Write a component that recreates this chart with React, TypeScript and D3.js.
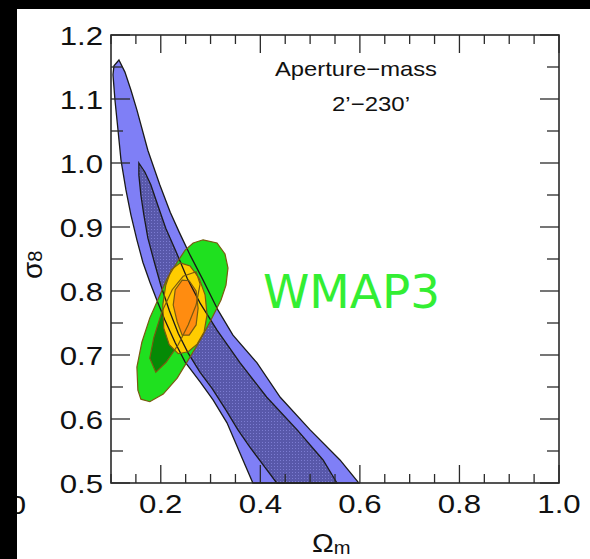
import React from 'react';
import * as d3 from 'd3';

type Pt = [number, number];

// tick labels
const xTickLabels = [0.2, 0.4, 0.6, 0.8, 1.0];
const yTickLabels = [0.5, 0.6, 0.7, 0.8, 0.9, 1.0, 1.1, 1.2];

// aperture-mass lensing band, [Omega_m, sigma_8]
const lensingOuter: Pt[] = [
  [0.116, 1.161], [0.128, 1.142], [0.140, 1.114], [0.152, 1.083], [0.174, 1.020],
  [0.198, 0.966], [0.219, 0.923], [0.237, 0.892], [0.259, 0.856], [0.285, 0.817],
  [0.315, 0.770], [0.345, 0.731], [0.393, 0.688], [0.440, 0.634], [0.500, 0.583],
  [0.560, 0.536], [0.598, 0.500], [0.385, 0.500], [0.359, 0.547], [0.333, 0.594],
  [0.305, 0.630], [0.279, 0.658], [0.249, 0.689], [0.229, 0.719], [0.208, 0.755],
  [0.192, 0.786], [0.178, 0.814], [0.164, 0.845], [0.152, 0.880], [0.140, 0.919],
  [0.130, 0.958], [0.120, 1.005], [0.114, 1.052], [0.108, 1.098], [0.104, 1.138],
  [0.106, 1.152],
];

const lensingInner: Pt[] = [
  [0.156, 1.000], [0.168, 0.986], [0.180, 0.966], [0.194, 0.934], [0.210, 0.898],
  [0.231, 0.861], [0.253, 0.820], [0.279, 0.781], [0.313, 0.739], [0.359, 0.688],
  [0.413, 0.634], [0.474, 0.583], [0.526, 0.536], [0.554, 0.500], [0.433, 0.500],
  [0.403, 0.531], [0.379, 0.556], [0.355, 0.583], [0.331, 0.614], [0.303, 0.648],
  [0.279, 0.673], [0.255, 0.703], [0.235, 0.734], [0.217, 0.770], [0.200, 0.809],
  [0.186, 0.848], [0.174, 0.883], [0.166, 0.919], [0.160, 0.950], [0.156, 0.981],
];

// WMAP3 contours
const wmapOuter: Pt[] = [
  [0.265, 0.875], [0.285, 0.880], [0.313, 0.875], [0.329, 0.858], [0.335, 0.836],
  [0.331, 0.809], [0.321, 0.786], [0.299, 0.752], [0.279, 0.723], [0.259, 0.697],
  [0.233, 0.664], [0.205, 0.639], [0.178, 0.627], [0.160, 0.631], [0.154, 0.645],
  [0.152, 0.681], [0.162, 0.720], [0.178, 0.758], [0.194, 0.786], [0.213, 0.820],
  [0.233, 0.845], [0.249, 0.864],
];

const wmapInner: Pt[] = [
  [0.178, 0.695], [0.186, 0.727], [0.202, 0.767], [0.223, 0.802], [0.245, 0.823],
  [0.271, 0.830], [0.279, 0.811], [0.271, 0.778], [0.255, 0.747], [0.235, 0.716],
  [0.211, 0.689], [0.190, 0.673],
];

// combined contours
const jointOuter: Pt[] = [
  [0.239, 0.844], [0.259, 0.839], [0.277, 0.820], [0.289, 0.794], [0.293, 0.763],
  [0.287, 0.736], [0.273, 0.717], [0.255, 0.705], [0.235, 0.702], [0.217, 0.716],
  [0.206, 0.742], [0.204, 0.778], [0.210, 0.809], [0.221, 0.833],
];

const jointInner: Pt[] = [
  [0.243, 0.817], [0.257, 0.816], [0.271, 0.800], [0.275, 0.773], [0.271, 0.747],
  [0.257, 0.731], [0.243, 0.731], [0.233, 0.752], [0.225, 0.778], [0.229, 0.802],
];

const font = "'Liberation Sans', Arial, sans-serif";

export default function App() {
  const x = d3.scaleLinear().domain([0.1, 1.0]).range([111, 559]);
  const y = d3.scaleLinear().domain([0.5, 1.2]).range([483, 35]);
  const shape = d3
    .line<Pt>()
    .x(d => x(d[0]))
    .y(d => y(d[1]))
    .curve(d3.curveLinearClosed);

  const isMult = (v: number, step: number) => Math.abs(v / step - Math.round(v / step)) < 1e-6;
  const xTicks = x.ticks(18);
  const yTicks = y.ticks(14);
  const axisColor = '#2a2a2a';

  return (
    <div style={{ position: 'fixed', left: 0, top: 0 }}>
      <svg width={590} height={559} style={{ display: 'block', background: '#fff' }}>
        <defs>
          <pattern id="dots" width={3} height={3} patternUnits="userSpaceOnUse">
            <rect width={3} height={3} fill="#5858aa" />
            <rect x={1} y={1} width={1} height={1} fill="#7c7cd2" />
          </pattern>
        </defs>

        {/* fills */}
        <path d={shape(lensingOuter) ?? ''} fill="#7f7ff6" />
        <path d={shape(lensingInner) ?? ''} fill="url(#dots)" />
        <path d={shape(wmapOuter) ?? ''} fill="#1fe01f" />
        <path d={shape(wmapInner) ?? ''} fill="#058a05" />
        <path d={shape(jointOuter) ?? ''} fill="#ffcc00" />
        <path d={shape(jointInner) ?? ''} fill="#ff8c10" />

        {/* outlines */}
        <path d={shape(lensingOuter) ?? ''} fill="none" stroke="#1a1a1a" strokeWidth={1.3} />
        <path d={shape(lensingInner) ?? ''} fill="none" stroke="#1a1a1a" strokeWidth={1.3} />
        <path d={shape(wmapOuter) ?? ''} fill="none" stroke="#7a5a10" strokeWidth={1.2} />
        <path d={shape(wmapInner) ?? ''} fill="none" stroke="#7a5a10" strokeWidth={1.2} />
        <path d={shape(jointOuter) ?? ''} fill="none" stroke="#7a5a10" strokeWidth={1.2} />
        <path d={shape(jointInner) ?? ''} fill="none" stroke="#7a5a10" strokeWidth={1.2} />

        {/* frame */}
        <rect x={111} y={35} width={448} height={448} fill="none" stroke={axisColor} strokeWidth={1.6} />
        {xTicks.map(v => {
          const len = isMult(v, 0.2) ? 18 : 9;
          return (
            <g key={'x' + v}>
              <line x1={x(v)} x2={x(v)} y1={35} y2={35 + len} stroke={axisColor} strokeWidth={1.3} />
              <line x1={x(v)} x2={x(v)} y1={483} y2={483 - len} stroke={axisColor} strokeWidth={1.3} />
            </g>
          );
        })}
        {yTicks.map(v => {
          const len = isMult(v, 0.1) ? 19 : 12;
          return (
            <g key={'y' + v}>
              <line x1={111} x2={111 + len} y1={y(v)} y2={y(v)} stroke={axisColor} strokeWidth={1.3} />
              <line x1={559} x2={559 - len} y1={y(v)} y2={y(v)} stroke={axisColor} strokeWidth={1.3} />
            </g>
          );
        })}

        {/* tick labels */}
        <g fontFamily={font} fontSize={26} fill="#111">
          {yTickLabels.map(v => (
            <text key={'yl' + v} textAnchor="end" transform={`translate(103,${y(v) + 9.5}) scale(1.2,1)`}>
              {v.toFixed(1)}
            </text>
          ))}
          {xTickLabels.map(v => (
            <text key={'xl' + v} textAnchor="middle" transform={`translate(${x(v)},513) scale(1.2,1)`}>
              {v.toFixed(1)}
            </text>
          ))}
          <text textAnchor="end" transform="translate(26,514) scale(1.2,1)">0</text>
        </g>

        {/* annotations */}
        <g fontFamily={font} fill="#111">
          <text x={275} y={76} fontSize={21} textLength={162} lengthAdjust="spacingAndGlyphs">
            Aperture−mass
          </text>
          <text x={332} y={111} fontSize={21} textLength={78} lengthAdjust="spacingAndGlyphs">
            2’−230’
          </text>
        </g>
        <text
          x={263}
          y={308}
          fontFamily="'DejaVu Sans', sans-serif"
          fontSize={47}
          fill="#33ee33"
          textLength={177}
          lengthAdjust="spacingAndGlyphs"
        >
          WMAP3
        </text>

        {/* axis titles */}
        <text transform="translate(42,279) rotate(-90)" fontFamily={font} fill="#111">
          <tspan fontSize={28}>σ</tspan>
          <tspan fontSize={20}>8</tspan>
        </text>
        <text transform="translate(312,552) scale(1.12,1)" fontFamily={font} fill="#111">
          <tspan fontSize={26}>Ω</tspan>
          <tspan fontSize={18} dy={2}>m</tspan>
        </text>

        {/* black border */}
        <rect x={0} y={0} width={590} height={9} fill="#000" />
        <rect x={0} y={0} width={17} height={559} fill="#000" />
      </svg>
    </div>
  );
}
